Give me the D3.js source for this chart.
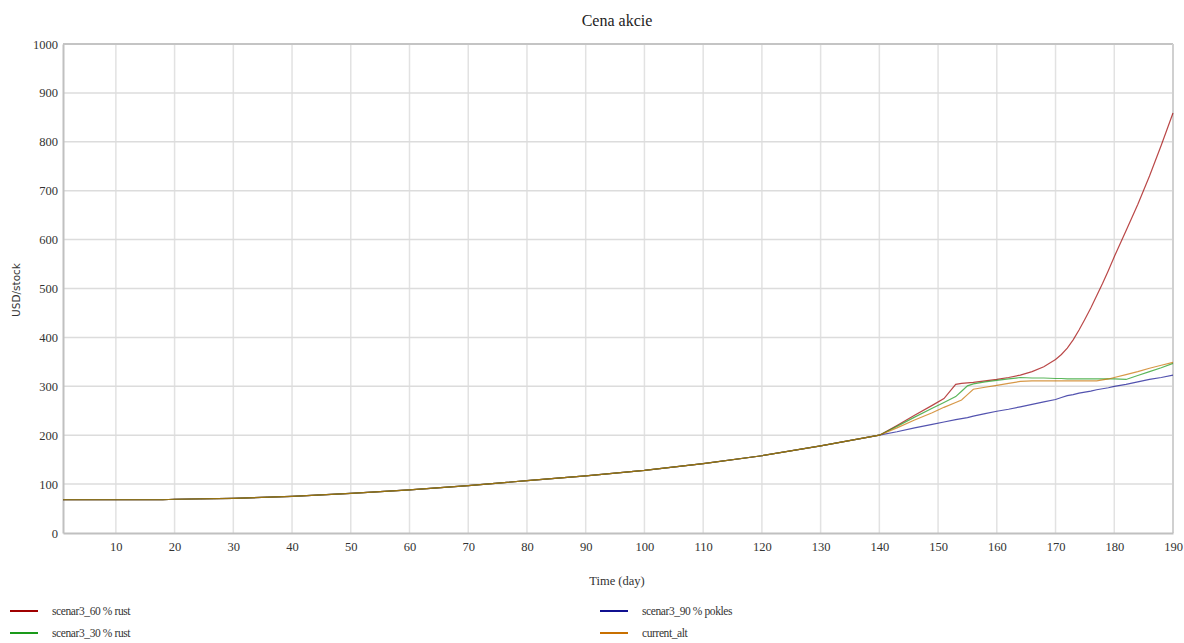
<!DOCTYPE html>
<html><head><meta charset="utf-8">
<script src="https://cdn.jsdelivr.net/npm/d3@7"></script>
<style>body{margin:0;background:#fff}svg{display:block}
.sf{font-family:"Liberation Serif","Times New Roman",Times,"DejaVu Serif",serif}</style>
</head><body>
<svg id="c" width="1184" height="643"></svg>
<script>
// ---- data ----
const baseDays = [1,10,18,20,30,40,50,60,70,80,90,100,110,120,130,140];
const baseVals = [68,68,68,69,71,75,81,88,97,107,117,128,142,158,178,200];
const lateDays = [143,146,149,151,153,154,155,156,158,160,162,164,166,168,170,171,172,173,174,175,176,177,178,179,180,182,184,186,188,190];
const late60rust = [220,241,261,275,304,306,307,308,311,314,318,323,330,340,355,365,378,395,415,437,460,485,510,537,565,618,672,730,793,859];
const late30rust = [218,237,255,267,279,290,301,305,309,312,315,318,317,317,316,316,315,315,315,315,315,315,315,315,315,314,322,330,338,347];
const late90pokles = [207,215,222,227,232,234,236,239,244,249,253,258,263,268,273,277,281,283,286,288,290,293,295,297,300,304,309,314,318,323];
const lateCurrent = [215,231,246,257,267,272,283,294,298,302,306,310,311,311,311,311,311,311,311,311,311,311,313,315,318,324,330,337,343,349];
const seriesNames = ["scenar3_60 % rust","scenar3_30 % rust","scenar3_90 % pokles","current_alt"];
const seriesColors = ["#a00000","#1a9a1a","#101090","#c87000"];
const xTicks = [10,20,30,40,50,60,70,80,90,100,110,120,130,140,150,160,170,180,190];
const yTicks = [0,100,200,300,400,500,600,700,800,900,1000];
const title = "Cena akcie", xLabel = "Time (day)", yLabel = "USD/stock";

const days = baseDays.concat(lateDays);
const lateSets = [late60rust, late30rust, late90pokles, lateCurrent];
const series = seriesNames.map((n,i)=>({name:n,color:seriesColors[i],
  values: days.map((d,j)=>({d, v: j<baseDays.length ? baseVals[j] : lateSets[i][j-baseDays.length]}))}));

// ---- layout ----
const svg = d3.select("#c");
const L=63, R=1173, T=44, B=533;
const x = d3.scaleLinear().domain([1,190]).range([L,R]);
const y = d3.scaleLinear().domain([0,1000]).range([B,T]);

// grid
svg.append("g").selectAll("line").data(xTicks).join("line")
  .attr("x1",d=>x(d)).attr("x2",d=>x(d)).attr("y1",T).attr("y2",B)
  .attr("stroke","#e2e2e2").attr("stroke-width",1.5);
svg.append("g").selectAll("line").data(yTicks.filter(d=>d>0&&d<1000)).join("line")
  .attr("x1",L).attr("x2",R).attr("y1",d=>y(d)).attr("y2",d=>y(d))
  .attr("stroke","#dcdcdc").attr("stroke-width",1.5);
// frame
svg.append("line").attr("x1",L).attr("x2",R).attr("y1",T).attr("y2",T).attr("stroke","#c4c4c4").attr("stroke-width",2);
svg.append("line").attr("x1",R).attr("x2",R).attr("y1",T).attr("y2",B).attr("stroke","#d0d0d0").attr("stroke-width",2);

// axes
const xAxis = svg.append("g").attr("transform",`translate(0,${B})`)
  .call(d3.axisBottom(x).tickValues(xTicks).tickSize(0).tickPadding(9).tickFormat(d3.format("d")));
const yAxis = svg.append("g").attr("transform",`translate(${L},0)`)
  .call(d3.axisLeft(y).tickValues(yTicks).tickSize(0).tickPadding(5).tickFormat(d3.format("d")));
[xAxis,yAxis].forEach(a=>{
  a.attr("font-family",null).attr("font-size",null);
  a.select(".domain").attr("stroke","#c0c0c0").attr("stroke-width",2);
  a.selectAll("text").attr("class","sf").attr("font-size",12.5).attr("fill","#333");
});

// lines
const line = d3.line().x(p=>x(p.d)).y(p=>y(p.v));
const drawOrder = [0,2,1,3];
drawOrder.forEach(i=>{
  svg.append("path").attr("d",line(series[i].values)).attr("fill","none")
    .attr("stroke",series[i].color).attr("stroke-width",1.2).attr("stroke-opacity",0.72);
});

// titles
svg.append("text").attr("class","sf").attr("x",617).attr("y",26).attr("text-anchor","middle")
  .attr("font-size",16).attr("fill","#222").text(title);
svg.append("text").attr("class","sf").attr("x",617).attr("y",585).attr("text-anchor","middle")
  .attr("font-size",12.5).attr("fill","#333").text(xLabel);
svg.append("text").attr("transform","translate(20,290) rotate(-90)").attr("text-anchor","middle")
  .attr("font-family","DejaVu Sans, sans-serif").attr("font-size",10.5).attr("fill","#333").text(yLabel);

// legend
const legPos = [[10,611],[10,633],[600,611],[600,633]];
series.forEach((s,i)=>{
  const [lx,ly]=legPos[i];
  svg.append("line").attr("x1",lx).attr("x2",lx+28).attr("y1",ly).attr("y2",ly)
    .attr("stroke",s.color).attr("stroke-width",2);
  svg.append("text").attr("class","sf").attr("x",lx+42).attr("y",ly+4)
    .attr("font-size",11.5).attr("letter-spacing","-0.4").attr("fill","#333").text(s.name);
});
</script>
</body></html>
